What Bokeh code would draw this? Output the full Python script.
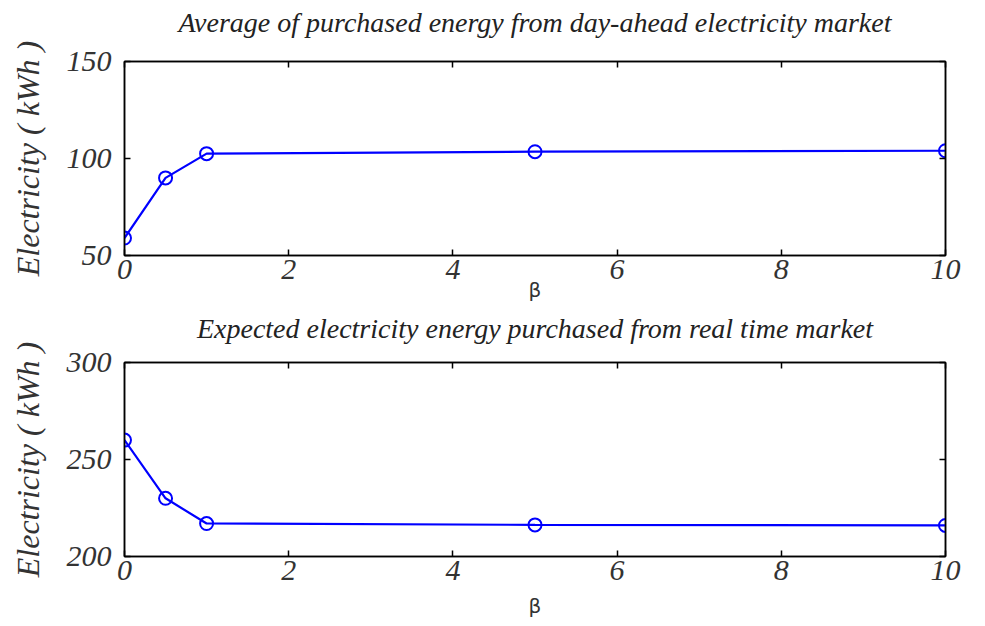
from bokeh.plotting import figure
from bokeh.layouts import column
from bokeh.models import LinearAxis, Range1d, FixedTicker
from bokeh.embed import file_html
from bokeh.resources import INLINE

beta = [0, 0.5, 1, 5, 10]
day_ahead = [59, 90, 102.5, 103.5, 104]
real_time = [260, 230, 217, 216.3, 216]

x_ticks = [0, 2, 4, 6, 8, 10]
top_ticks = [50, 100, 150]
bot_ticks = [200, 250, 300]

title_top = "Average of purchased energy from day-ahead electricity market"
title_bot = "Expected electricity energy purchased from real time market"
ylabel = "Electricity ( kWh )"
xlabel = "β"

SERIF = "Liberation Serif"


def make(title, ys, yr, yticks, top_border, bottom_border, title_gap, beta_standoff):
    p = figure(frame_width=821, frame_height=194, output_backend="svg",
               toolbar_location=None, x_range=Range1d(0, 10),
               y_range=Range1d(*yr), min_border_left=124, min_border_right=32,
               min_border_top=top_border, min_border_bottom=bottom_border,
               title=title, x_axis_label=xlabel, y_axis_label=ylabel)
    p.title.align = "center"
    p.title.text_font = SERIF
    p.title.text_font_style = "italic"
    p.title.text_font_size = "28px"
    p.title.text_color = "#222222"
    p.title.standoff = 0
    p.grid.visible = False
    p.outline_line_color = "black"
    p.outline_line_width = 1.5
    p.background_fill_color = "white"
    p.border_fill_color = "white"

    for ax in p.xaxis:
        ax.ticker = FixedTicker(ticks=x_ticks)
        ax.axis_label_text_font = "DejaVu Sans"
        ax.axis_label_text_font_style = "normal"
        ax.axis_label_text_font_size = "20px"
        ax.axis_label_text_color = "#333333"
        ax.axis_label_standoff = beta_standoff
        ax.major_label_standoff = 4
    for ax in p.yaxis:
        ax.ticker = FixedTicker(ticks=yticks)
        ax.axis_label_text_font = SERIF
        ax.axis_label_text_font_style = "italic"
        ax.axis_label_text_font_size = "32px"
        ax.axis_label_text_color = "#333333"
        ax.axis_label_standoff = 18
        ax.major_label_standoff = 13
    for ax in p.xaxis + p.yaxis:
        ax.major_label_text_font = SERIF
        ax.major_label_text_font_style = "italic"
        ax.major_label_text_font_size = "30px"
        ax.major_label_text_color = "#333333"
        ax.major_tick_in = 6
        ax.major_tick_out = 0
        ax.minor_tick_line_color = None
        ax.axis_line_width = 1.5
        ax.major_tick_line_width = 1.5

    ra = LinearAxis(ticker=FixedTicker(ticks=yticks),
                    major_label_overrides={t: "" for t in yticks},
                    major_tick_in=6, major_tick_out=0, minor_tick_line_color=None,
                    axis_line_width=1.5, major_tick_line_width=1.5, major_label_standoff=0)
    ta = LinearAxis(ticker=FixedTicker(ticks=x_ticks),
                    major_label_overrides={t: "" for t in x_ticks},
                    major_tick_in=6, major_tick_out=0, minor_tick_line_color=None,
                    axis_line_width=1.5, major_tick_line_width=1.5, major_label_standoff=0)
    # invisible spacer between the frame and the title
    spacer = LinearAxis(ticker=FixedTicker(ticks=x_ticks),
                        major_label_overrides={t: "" for t in x_ticks},
                        major_tick_in=0, major_tick_out=title_gap,
                        major_tick_line_color=None, minor_tick_line_color=None,
                        axis_line_color=None, major_label_standoff=0)
    p.add_layout(ra, "right")
    p.add_layout(ta, "above")
    p.add_layout(spacer, "above")

    p.line(beta, ys, line_color="#0000FF", line_width=2.2)
    p.scatter(beta, ys, marker="circle", size=13, fill_color=None,
              line_color="#0000FF", line_width=2)
    return p


p1 = make(title_top, day_ahead, (50, 150), top_ticks, 61, 50, 24, -4)
p2 = make(title_bot, real_time, (200, 300), bot_ticks, 57, 55, 19, 11)

layout = column(p1, p2, spacing=0)
open("out.html", "w").write(file_html(layout, INLINE))
